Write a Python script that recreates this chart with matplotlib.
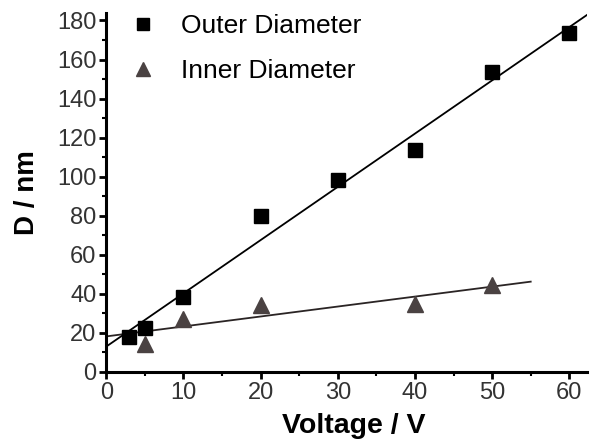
import numpy as np
import matplotlib
matplotlib.use('Agg')
import matplotlib.pyplot as plt
from matplotlib.ticker import MultipleLocator

# data
outer_v = [3, 5, 10, 20, 30, 40, 50, 60]
outer_d = [18, 22.5, 38.5, 80, 98.5, 113.5, 153.5, 173.5]
inner_v = [5, 10, 20, 40, 50]
inner_d = [14.5, 27, 34, 34.5, 44.5]

plt.rcParams['font.family'] = ['Liberation Sans', 'DejaVu Sans']

fig = plt.figure(figsize=(5.9, 4.48), dpi=100)
ax = fig.add_axes([0.18, 0.17, 0.815, 0.80])

gray = '#4a4242'

# linear fits
po = np.polyfit(outer_v, outer_d, 1)
pi = np.polyfit(inner_v, inner_d, 1)
xo = np.array([0, 62.3])
xi = np.array([0, 55])
ax.plot(xo, np.polyval(po, xo), color='black', lw=1.3, zorder=2)
ax.plot(xi, np.polyval(pi, xi), color='#2a2424', lw=1.3, zorder=2)

ax.plot(outer_v, outer_d, 's', color='black', ms=9.5, ls='none',
        label='Outer Diameter', zorder=3)
ax.plot(inner_v, inner_d, '^', color=gray, ms=11, ls='none',
        label='Inner Diameter', zorder=3)

ax.set_xlim(0, 62.3)
ax.set_ylim(0, 183.6)
ax.xaxis.set_major_locator(MultipleLocator(10))
ax.xaxis.set_minor_locator(MultipleLocator(5))
ax.yaxis.set_major_locator(MultipleLocator(20))
ax.yaxis.set_minor_locator(MultipleLocator(10))

for s in ['top', 'right']:
    ax.spines[s].set_visible(False)
for s in ['left', 'bottom']:
    ax.spines[s].set_linewidth(2.2)

ax.tick_params(which='major', direction='out', length=5, width=2,
               labelsize=17, labelcolor='#333333', pad=2)
ax.tick_params(which='minor', direction='out', length=3, width=1.5)

ax.set_xlabel('Voltage / V', fontsize=20.5, fontweight='bold')
ax.set_ylabel('D / nm', fontsize=20, fontweight='bold')
ax.xaxis.set_label_coords(0.514, -0.115)
ax.yaxis.set_label_coords(-0.137, 0.5)

ax.legend(loc='upper left', bbox_to_anchor=(0.05, 0.998), frameon=False,
          fontsize=19, labelspacing=0.78, handlelength=1.0,
          handletextpad=0.94, borderpad=0, borderaxespad=0,
          markerscale=0.9)

fig.savefig('out.png', dpi=100)
